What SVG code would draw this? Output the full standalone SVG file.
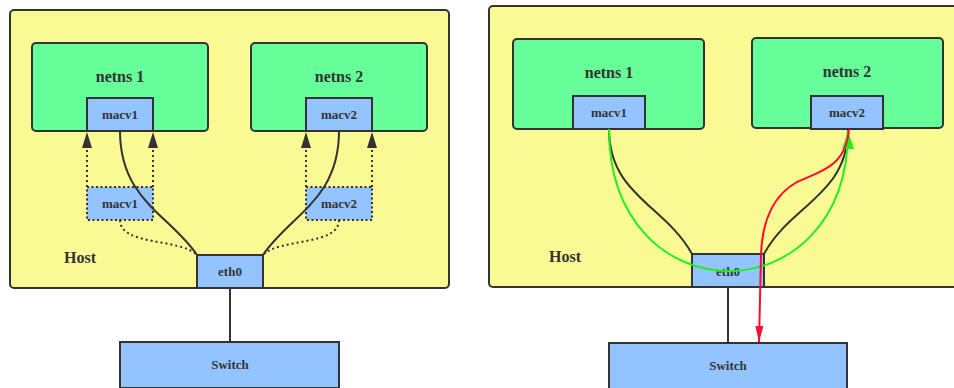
<svg xmlns="http://www.w3.org/2000/svg" width="954" height="388" viewBox="0 0 954 388">
  <style>
    .host { fill: #f9fa93; stroke: #333; stroke-width: 2; }
    .ns { fill: #66ff99; stroke: #333; stroke-width: 2; }
    .nic { fill: #94c4ff; stroke: #333; stroke-width: 2; }
    .nic-dot { fill: #94c4ff; stroke: #333; stroke-width: 2; stroke-dasharray: 2 2.5; }
    .lbl { font-family: "Liberation Serif", "DejaVu Serif", serif; font-weight: bold; fill: #333; text-anchor: middle; }
    .big { font-size: 16px; }
    .small { font-size: 13px; }
    .sw { font-family: "Liberation Serif", "DejaVu Serif", serif; font-weight: bold; font-size: 13px; fill: #333; text-anchor: middle; }
    .wire { fill: none; stroke: #333; stroke-width: 2; }
    .dot { fill: none; stroke: #333; stroke-width: 2; stroke-dasharray: 2 3; }
    .green { fill: none; stroke: #22ee22; stroke-width: 2; }
    .red { fill: none; stroke: #ff0a33; stroke-width: 2; }
  </style>
  <defs>
    <marker id="arrowDark" viewBox="0 0 16 10" refX="16" refY="5" markerWidth="16" markerHeight="10" markerUnits="userSpaceOnUse" orient="auto">
      <path d="M0,0 L16,5 L0,10 Z" fill="#333"/>
    </marker>
    <marker id="arrowGreen" viewBox="0 0 18 12" refX="18" refY="6" markerWidth="18" markerHeight="12" markerUnits="userSpaceOnUse" orient="auto">
      <path d="M0,0 L18,6 L0,12 Z" fill="#22ee22"/>
    </marker>
    <marker id="arrowRed" viewBox="0 0 16 8" refX="16" refY="4" markerWidth="16" markerHeight="8" markerUnits="userSpaceOnUse" orient="auto">
      <path d="M0,0 L16,4 L0,8 Z" fill="#ff0a33"/>
    </marker>
  </defs>

  <!-- Left: host with macvlan children before moving into namespaces -->
  <g id="host-left">
    <rect class="host" x="10" y="10" width="439" height="278" rx="4"/>
    <text class="lbl big" x="80" y="263">Host</text>
  </g>
  <g id="netns1-left">
    <rect class="ns" x="32" y="43" width="176" height="88" rx="4"/>
    <text class="lbl big" x="120" y="82">netns 1</text>
  </g>
  <g id="netns2-left">
    <rect class="ns" x="251" y="43" width="176" height="88" rx="4"/>
    <text class="lbl big" x="339" y="82">netns 2</text>
  </g>
  <g id="macv1-ns-left">
    <rect class="nic" x="87" y="98" width="66" height="33"/>
    <text class="lbl small" x="120" y="119">macv1</text>
  </g>
  <g id="macv2-ns-left">
    <rect class="nic" x="306" y="98" width="66" height="33"/>
    <text class="lbl small" x="339" y="119">macv2</text>
  </g>
  <g id="macv1-host-left">
    <rect class="nic-dot" x="87" y="187" width="66" height="33"/>
    <text class="lbl small" x="120" y="208">macv1</text>
  </g>
  <g id="macv2-host-left">
    <rect class="nic-dot" x="306" y="187" width="66" height="33"/>
    <text class="lbl small" x="339" y="208">macv2</text>
  </g>
  <g id="eth0-left">
    <rect class="nic" x="197" y="255" width="66" height="33"/>
    <text class="lbl small" x="230" y="276">eth0</text>
  </g>
  <g id="switch-left">
    <rect class="nic" x="120" y="342" width="219" height="46"/>
    <text class="sw" x="230" y="369">Switch</text>
  </g>

  <!-- Right: namespaces talking through eth0 -->
  <g id="host-right">
    <rect class="host" x="489" y="6" width="470" height="281" rx="4"/>
    <text class="lbl big" x="565" y="262">Host</text>
  </g>
  <g id="netns1-right">
    <rect class="ns" x="513" y="39" width="191" height="90" rx="4"/>
    <text class="lbl big" x="609" y="78">netns 1</text>
  </g>
  <g id="netns2-right">
    <rect class="ns" x="752" y="38" width="191" height="90" rx="4"/>
    <text class="lbl big" x="847" y="77">netns 2</text>
  </g>
  <g id="macv1-ns-right">
    <rect class="nic" x="573" y="96" width="72" height="33"/>
    <text class="lbl small" x="609" y="117">macv1</text>
  </g>
  <g id="macv2-ns-right">
    <rect class="nic" x="811" y="96" width="72" height="33"/>
    <text class="lbl small" x="847" y="117">macv2</text>
  </g>
  <g id="eth0-right">
    <rect class="nic" x="692" y="254" width="72" height="33"/>
    <text class="lbl small" x="728" y="276">eth0</text>
  </g>
  <g id="switch-right">
    <rect class="nic" x="609" y="343" width="238" height="46"/>
    <text class="sw" x="728" y="370">Switch</text>
  </g>

  <g id="connectors">
    <!-- left panel -->
    <path class="wire" d="M120,131 C120,200 170,215 197,255"/>
    <path class="wire" d="M339,131 C339,200 290,215 263,255"/>
    <path class="dot" d="M87,187 L87,132" marker-end="url(#arrowDark)"/>
    <path class="dot" d="M153,187 L153,132" marker-end="url(#arrowDark)"/>
    <path class="dot" d="M306,187 L306,132" marker-end="url(#arrowDark)"/>
    <path class="dot" d="M372,187 L372,132" marker-end="url(#arrowDark)"/>
    <path class="dot" d="M120,220 C120,246 180,238 197,255"/>
    <path class="dot" d="M339,220 C339,246 279,238 263,255"/>
    <path class="wire" d="M230,288 L230,342"/>

    <!-- right panel -->
    <path class="wire" d="M609,129 C609,195 665,205 692,254"/>
    <path class="wire" d="M848,129 C848,195 790,205 764,254"/>
    <path class="wire" d="M728,287 L728,343"/>
    <path class="green" d="M609,129 C609,318 848,318 848,131" marker-end="url(#arrowGreen)"/>
    <path class="red" d="M849,129 C846,168 818,172 797,182 C770,197 762,225 761,255 L759,342" marker-end="url(#arrowRed)"/>
  </g>
</svg>
